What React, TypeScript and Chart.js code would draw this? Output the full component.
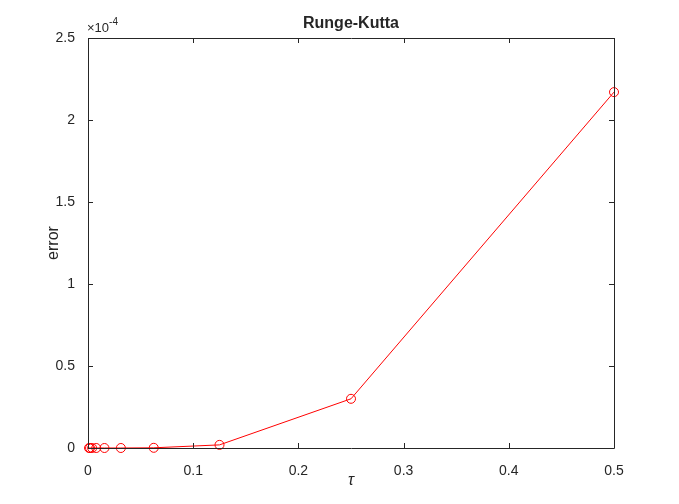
import React, { useEffect, useRef } from "react";
import { Chart, registerables } from "chart.js";

Chart.register(...registerables);

const tau = [0.5, 0.25, 0.125, 0.0625, 0.03125, 0.015625, 0.0078125, 0.00390625, 0.001953125, 0.0009765625];
const errors = [2.17e-4, 3.0e-5, 1.9e-6, 1.2e-7, 7.5e-9, 4.7e-10, 2.9e-11, 1.8e-12, 1.1e-13, 7e-15];
const titleText = "Runge-Kutta";
const xLabel = "τ";
const yLabel = "error";
const yScaleExp = -4;

const FONT = "'Liberation Sans', Arial, Helvetica, sans-serif";
const TEXT = "#262626";

const framePlugin = {
  id: "frame",
  afterDraw(chart: any) {
    const { ctx, chartArea: a, scales } = chart;
    const xs = scales.x;
    const ys = scales.y;
    ctx.save();
    ctx.strokeStyle = TEXT;
    ctx.lineWidth = 1;
    ctx.beginPath();
    ctx.rect(Math.round(a.left) + 0.5, Math.round(a.top) + 0.5, Math.round(a.right - a.left), Math.round(a.bottom - a.top));
    ctx.stroke();
    const tl = 5;
    ctx.beginPath();
    xs.ticks.forEach((t: any) => {
      const px = Math.round(xs.getPixelForValue(t.value)) + 0.5;
      ctx.moveTo(px, a.bottom);
      ctx.lineTo(px, a.bottom - tl);
      ctx.moveTo(px, a.top);
      ctx.lineTo(px, a.top + tl);
    });
    ys.ticks.forEach((t: any) => {
      const py = Math.round(ys.getPixelForValue(t.value)) + 0.5;
      ctx.moveTo(a.left, py);
      ctx.lineTo(a.left + tl, py);
      ctx.moveTo(a.right, py);
      ctx.lineTo(a.right - tl, py);
    });
    ctx.stroke();

    ctx.fillStyle = TEXT;
    // title
    ctx.font = `bold 16px ${FONT}`;
    ctx.textAlign = "center";
    ctx.textBaseline = "alphabetic";
    ctx.fillText(titleText, (a.left + a.right) / 2, 28);
    // x label
    ctx.font = `italic 16px ${FONT}`;
    ctx.fillText(xLabel, (a.left + a.right) / 2, 485);
    // y label
    ctx.save();
    ctx.translate(58, (a.top + a.bottom) / 2);
    ctx.rotate(-Math.PI / 2);
    ctx.font = `16px ${FONT}`;
    ctx.textAlign = "center";
    ctx.fillText(yLabel, 0, 0);
    ctx.restore();
    // exponent
    ctx.textAlign = "left";
    ctx.font = `13px ${FONT}`;
    const base = "×10";
    ctx.fillText(base, a.left - 1, 32);
    const w = ctx.measureText(base).width;
    ctx.font = `10px ${FONT}`;
    ctx.fillText(String(yScaleExp), a.left - 1 + w, 25);
    ctx.restore();
  },
};

export default function App() {
  const ref = useRef<HTMLCanvasElement | null>(null);
  useEffect(() => {
    document.body.style.margin = "0";
    const canvas = ref.current!;
    const chart = new Chart(canvas, {
      type: "line",
      data: {
        datasets: [
          {
            data: tau.map((t, i) => ({ x: t, y: errors[i] })),
            borderColor: "#ff0000",
            borderWidth: 1,
            pointStyle: "circle",
            pointRadius: 4.5,
            pointBorderWidth: 1,
            pointBackgroundColor: "rgba(0,0,0,0)",
            pointBorderColor: "#ff0000",
            fill: false,
            tension: 0,
            clip: false,
          } as any,
        ],
      },
      options: {
        animation: false,
        responsive: false,
        devicePixelRatio: 1,
        layout: { padding: { left: 28, right: 65, top: 38, bottom: 26 } },
        plugins: { legend: { display: false }, title: { display: false }, tooltip: { enabled: false } },
        scales: {
          x: {
            type: "linear",
            min: 0,
            max: 0.5,
            grid: { display: false },
            border: { display: false },
            ticks: {
              stepSize: 0.1,
              padding: 7,
              color: TEXT,
              font: { family: FONT, size: 14 },
              maxRotation: 0,
              callback: (v: any) => String(Number(Number(v).toFixed(2))),
            },
            afterFit: (s: any) => {
              s.height = 30;
            },
          },
          y: {
            type: "linear",
            min: 0,
            max: 2.5e-4,
            grid: { display: false },
            border: { display: false },
            ticks: {
              stepSize: 0.5e-4,
              padding: 5,
              color: TEXT,
              font: { family: FONT, size: 14 },
              callback: (v: any) => String(Number((Number(v) / Math.pow(10, yScaleExp)).toFixed(2))),
            },
            afterFit: (s: any) => {
              s.width = 60;
            },
          },
        },
      },
      plugins: [framePlugin],
    });
    return () => chart.destroy();
  }, []);
  return (
    <div style={{ width: 679, height: 504, background: "#fff" }}>
      <canvas ref={ref} width={679} height={504} style={{ display: "block" }} />
    </div>
  );
}
